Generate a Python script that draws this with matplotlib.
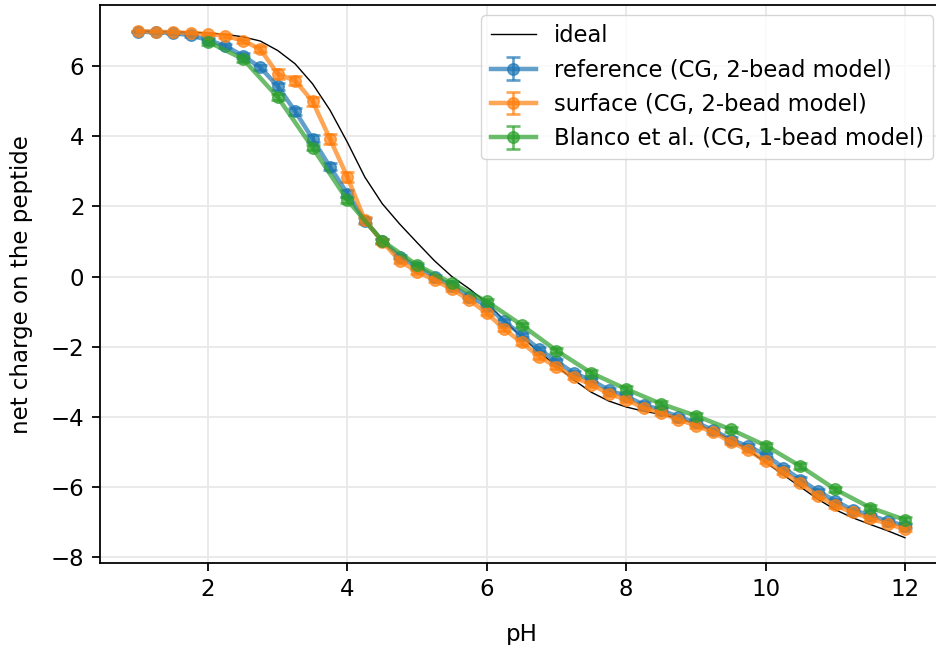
import numpy as np
import matplotlib
matplotlib.use("Agg")
import matplotlib.pyplot as plt

# pH grid of the simulations
ph = [1.0, 1.25, 1.5, 1.75, 2.0, 2.25, 2.5, 2.75, 3.0, 3.25, 3.5, 3.75,
      4.0, 4.25, 4.5, 4.75, 5.0, 5.25, 5.5, 5.75, 6.0, 6.25, 6.5, 6.75,
      7.0, 7.25, 7.5, 7.75, 8.0, 8.25, 8.5, 8.75, 9.0, 9.25, 9.5, 9.75,
      10.0, 10.25, 10.5, 10.75, 11.0, 11.25, 11.5, 11.75, 12.0]

ideal = [7.0, 6.99, 6.98, 6.97, 6.95, 6.91, 6.84, 6.72, 6.45, 6.07, 5.5, 4.75,
         3.83, 2.84, 2.08, 1.5, 0.97, 0.45, 0.0, -0.35, -0.75, -1.25, -1.72, -2.15,
         -2.55, -2.95, -3.3, -3.55, -3.72, -3.84, -3.93, -4.05, -4.2, -4.4, -4.65, -4.95,
         -5.3, -5.65, -6.0, -6.35, -6.65, -6.88, -7.07, -7.25, -7.45]

reference = [6.99, 6.97, 6.95, 6.88, 6.75, 6.58, 6.3, 5.97, 5.43, 4.72, 3.93, 3.13,
             2.37, 1.6, 1.02, 0.57, 0.28, -0.01, -0.27, -0.57, -0.83, -1.28, -1.66, -2.07,
             -2.42, -2.75, -2.96, -3.23, -3.42, -3.65, -3.81, -4.0, -4.16, -4.38, -4.65, -4.84,
             -5.08, -5.45, -5.79, -6.12, -6.40, -6.66, -6.81, -6.97, -7.11]
reference_err = [0.02, 0.02, 0.03, 0.04, 0.05, 0.06, 0.07, 0.08, 0.1, 0.1, 0.1, 0.1,
                 0.1, 0.08, 0.06, 0.05, 0.05, 0.05, 0.05, 0.05, 0.05, 0.06, 0.06, 0.06,
                 0.06, 0.06, 0.06, 0.06, 0.06, 0.06, 0.06, 0.06, 0.06, 0.06, 0.06, 0.06,
                 0.06, 0.06, 0.06, 0.06, 0.06, 0.05, 0.05, 0.05, 0.05]

surface = [7.0, 6.99, 6.97, 6.95, 6.92, 6.87, 6.73, 6.49, 5.78, 5.59, 5.0, 3.93,
           2.84, 1.61, 1.0, 0.45, 0.14, -0.10, -0.36, -0.67, -1.04, -1.50, -1.88, -2.28,
           -2.58, -2.87, -3.08, -3.34, -3.51, -3.75, -3.89, -4.08, -4.25, -4.44, -4.72, -4.95,
           -5.27, -5.58, -5.90, -6.26, -6.53, -6.73, -6.90, -7.05, -7.21]
surface_err = [0.02, 0.02, 0.03, 0.03, 0.04, 0.05, 0.06, 0.08, 0.15, 0.12, 0.12, 0.14,
               0.15, 0.1, 0.07, 0.06, 0.06, 0.06, 0.06, 0.06, 0.06, 0.06, 0.06, 0.06,
               0.06, 0.06, 0.06, 0.06, 0.06, 0.06, 0.06, 0.06, 0.06, 0.06, 0.06, 0.06,
               0.06, 0.06, 0.06, 0.06, 0.06, 0.06, 0.06, 0.06, 0.06]

ph_blanco = [2.0, 2.5, 3.0, 3.5, 4.0, 4.5, 5.0, 5.5, 6.0, 6.5, 7.0,
             7.5, 8.0, 8.5, 9.0, 9.5, 10.0, 10.5, 11.0, 11.5, 12.0]
blanco = [6.70, 6.21, 5.12, 3.68, 2.18, 1.02, 0.33, -0.19, -0.71, -1.38, -2.11,
          -2.75, -3.21, -3.63, -3.97, -4.36, -4.82, -5.41, -6.07, -6.59, -6.94]
blanco_err = [0.08, 0.08, 0.08, 0.08, 0.08, 0.06, 0.06, 0.06, 0.06, 0.06, 0.08,
              0.08, 0.08, 0.08, 0.08, 0.08, 0.08, 0.08, 0.08, 0.08, 0.08]

s = 1.6  # figure looks like default style rendered at a larger dpi
plt.rcParams.update({
    "font.size": 10 * s,
    "axes.linewidth": 0.8 * s,
    "xtick.major.size": 3.5 * s,
    "ytick.major.size": 3.5 * s,
    "xtick.major.width": 0.8 * s,
    "ytick.major.width": 0.8 * s,
    "xtick.major.pad": 3.0 * s,
    "ytick.major.pad": 3.5 * s,
    "xtick.labelsize": 16.5,
    "ytick.labelsize": 16.5,
})

fig = plt.figure(figsize=(9.37, 6.45), dpi=100)
ax = fig.add_axes([0.1067, 0.127, 0.9, 0.865])

ax.plot(ph, ideal, color="black", lw=1.0, label="ideal")
style = dict(marker="o", ms=5.2 * s, lw=2 * s, capsize=3 * s, capthick=1.2 * s,
             elinewidth=1.2 * s, alpha=0.7)
ax.errorbar(ph, reference, yerr=reference_err, color="tab:blue",
            label="reference (CG, 2-bead model)", **style)
ax.errorbar(ph, surface, yerr=surface_err, color="tab:orange",
            label="surface (CG, 2-bead model)", **style)
ax.errorbar(ph_blanco, blanco, yerr=blanco_err, color="tab:green",
            label="Blanco et al. (CG, 1-bead model)", **style)

ax.grid(True, color="#e8e8e8", lw=0.8 * s)
ax.set_axisbelow(True)
ax.spines["right"].set_visible(False)
ax.set_xlabel("pH", fontsize=16.5, labelpad=16)
ax.set_ylabel("net charge on the peptide", fontsize=16.5, labelpad=13)
ax.legend(loc="upper right", fontsize=16.3, borderaxespad=0.45)

fig.savefig("out.png", dpi=100)
